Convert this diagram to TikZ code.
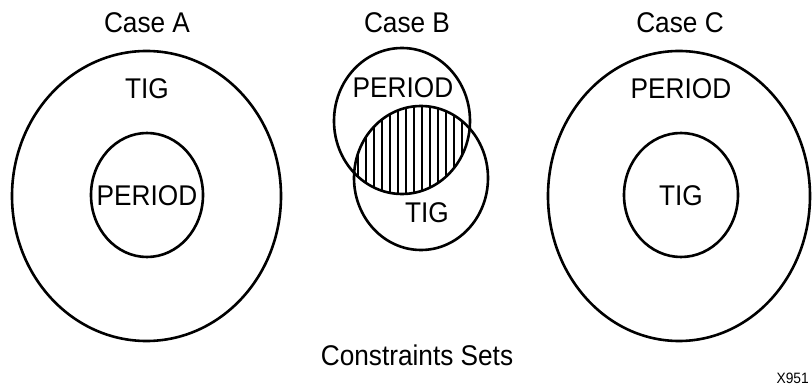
\documentclass[tikz,border=0pt]{standalone}
\usepackage{fontspec}
\setmainfont{Liberation Sans}
\newfontfamily\condfont[FakeStretch=0.92]{Liberation Sans}
\usetikzlibrary{shapes.geometric}

\begin{document}
\begin{tikzpicture}[x=1pt,y=-1pt,
        set/.style={draw,ellipse,line width=2.6pt,inner sep=0pt},
        lbl/.style={font=\condfont\fontsize{28.5}{32}\selectfont,inner sep=0pt}]
    \useasboundingbox (0,0) rectangle (812,387);

    % Case A
    \node[lbl] (capA) at (147,23) {Case A};
    \node[set,minimum width=269pt,minimum height=290pt] (outA) at (146.5,196) {};
    \node[set,minimum width=112pt,minimum height=124pt] (inA) at (147,195) {};
    \node[lbl] (tigA) at (147,89) {TIG};
    \node[lbl] (perA) at (147,196) {PERIOD};

    % Case B, hatched overlap first
    \begin{scope}
        \clip (402,121) ellipse [x radius=68, y radius=73];
        \clip (421,178) ellipse [x radius=67, y radius=72];
        \foreach \x in {358,366,...,478} {
            \draw[line width=2.3pt] (\x,100) -- (\x,200);
        }
    \end{scope}
    \node[lbl] (capB) at (407,23) {Case B};
    \node[set,minimum width=136pt,minimum height=146pt] (perB) at (402,121) {};
    \node[set,minimum width=134pt,minimum height=144pt] (tigB) at (421,178) {};
    \node[lbl] (perBtxt) at (403,88) {PERIOD};
    \node[lbl] (tigBtxt) at (427,213) {TIG};

    % Case C
    \node[lbl] (capC) at (680,23) {Case C};
    \node[set,minimum width=262pt,minimum height=290pt] (outC) at (679,196) {};
    \node[set,minimum width=114pt,minimum height=124pt] (inC) at (681,195) {};
    \node[lbl] (perC) at (681,89) {PERIOD};
    \node[lbl] (tigC) at (681,196) {TIG};

    \node[lbl] (title) at (417,355) {Constraints Sets};
    \node[font=\condfont\fontsize{15}{18}\selectfont,inner sep=0pt,anchor=east] (fig) at (809,378) {X951};
\end{tikzpicture}
\end{document}
